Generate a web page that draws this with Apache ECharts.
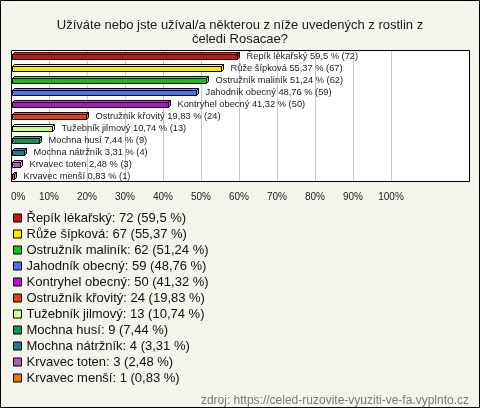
<!DOCTYPE html>
<html>
<head>
<meta charset="utf-8">
<script src="https://cdn.jsdelivr.net/npm/echarts@6/dist/echarts.min.js"></script>
<style>
  html, body { margin: 0; padding: 0; background: #f4f3ec; }
  #chart { width: 480px; height: 408px; }
</style>
</head>
<body>
<div id="chart"></div>
<script>
// data
var plants = ['Řepík lékařský', 'Růže šípková', 'Ostružník maliník', 'Jahodník obecný', 'Kontryhel obecný',
              'Ostružník křovitý', 'Tužebník jilmový', 'Mochna husí', 'Mochna nátržník', 'Krvavec toten', 'Krvavec menší'];
var counts = [72, 67, 62, 59, 50, 24, 13, 9, 4, 3, 1];
var percents = [59.5, 55.37, 51.24, 48.76, 41.32, 19.83, 10.74, 7.44, 3.31, 2.48, 0.83];
var xTicks = [0, 10, 20, 30, 40, 50, 60, 70, 80, 90, 100];

var colors = ['#c8140a', '#ffe600', '#14c014', '#4a72f0', '#b414c8', '#e2400e',
              '#ccff88', '#10925a', '#1e7a92', '#b45ab8', '#e8780e'];

var FONT = '"Liberation Sans", Arial, sans-serif';

function fmt(v) { return String(v).replace('.', ','); }

function renderBar(params, api) {
  var idx = api.value(1);
  var start = api.coord([0, idx]);
  var end = api.coord([api.value(0), idx]);
  var x0 = Math.round(start[0]) + 1.5, x1 = Math.round(end[0]) + 0.5;
  var yc = Math.round(end[1]);
  var top = yc - 1.5, bot = yc + 3.5, d = 2;
  var c = colors[params.seriesIndex];
  var dark = echarts.color.lift(c, -0.35);
  return {
    type: 'group',
    children: [
      { type: 'polygon', shape: { points: [[x0, top], [x0 + d, top - d], [x1 + d, top - d], [x1, top]] },
        style: { fill: dark, stroke: '#000', lineWidth: 1 } },
      { type: 'polygon', shape: { points: [[x1, top], [x1 + d, top - d], [x1 + d, bot - d], [x1, bot]] },
        style: { fill: dark, stroke: '#000', lineWidth: 1 } },
      { type: 'rect', shape: { x: x0, y: top, width: Math.max(x1 - x0, 0), height: bot - top },
        style: { fill: c, stroke: '#000', lineWidth: 1 } },
      { type: 'text', style: { x: x1 + 9, y: yc, text: plants[idx] + ' ' + fmt(percents[idx]) + ' % (' + counts[idx] + ')',
        verticalAlign: 'middle', font: '9.3px ' + FONT, fill: '#222' } }
    ]
  };
}

var series = plants.map(function (p, i) {
  return {
    type: 'custom',
    name: p + ': ' + counts[i] + ' (' + fmt(percents[i]) + ' %)',
    renderItem: renderBar,
    encode: { x: 0, y: 1 },
    itemStyle: { color: colors[i] },
    data: [[percents[i], i]],
    animation: false,
    silent: true
  };
});

var chart = echarts.init(document.getElementById('chart'));
chart.setOption({
  backgroundColor: '#f4f3ec',
  animation: false,
  title: [
    { text: 'Užíváte nebo jste užíval/a některou z níže uvedených z rostlin z\nčeledi Rosacae?',
      left: 'center', top: 13,
      textStyle: { fontFamily: FONT, fontSize: 13, fontWeight: 'normal', color: '#1a1a1a', lineHeight: 14, align: 'center' } },
    { text: 'zdroj: https://celed-ruzovite-vyuziti-ve-fa.vyplnto.cz',
      right: 6, top: 389,
      textStyle: { fontFamily: FONT, fontSize: 12, fontWeight: 'normal', color: '#7a7a7a', lineHeight: 14 } }
  ],
  graphic: [
    { type: 'rect', z: -10, silent: true, shape: { x: 11, y: 50, width: 459, height: 132 },
      style: { fill: '#fff' } },
    { type: 'rect', z: 100, silent: true, shape: { x: 11.5, y: 50.5, width: 458, height: 131 },
      style: { fill: 'none', stroke: '#000', lineWidth: 1 } },
    { type: 'rect', z: 100, silent: true, shape: { x: 0.5, y: 0.5, width: 479, height: 407 },
      style: { fill: 'none', stroke: '#000', lineWidth: 1 } }
  ],
  legend: {
    orient: 'vertical', left: 8, top: 205,
    selectedMode: false,
    itemWidth: 8, itemHeight: 8, itemGap: 0,
    icon: 'rect',
    textStyle: { fontFamily: FONT, fontSize: 13, color: '#111', lineHeight: 16 },
    data: series.map(function (s, i) {
      return { name: s.name, itemStyle: { color: colors[i], borderColor: '#000', borderWidth: 1 } };
    })
  },
  grid: { left: 11, top: 50, width: 380, height: 132, containLabel: false, outerBoundsMode: 'none' },
  xAxis: {
    type: 'value', min: xTicks[0], max: xTicks[xTicks.length - 1], interval: 10,
    axisLine: { show: false }, axisTick: { show: false },
    splitLine: { show: true, lineStyle: { color: '#c8c8c8', width: 1 } },
    axisLabel: { margin: 10, fontFamily: FONT, fontSize: 10, color: '#222', formatter: '{value}%', alignMinLabel: 'left' }
  },
  yAxis: {
    type: 'category', data: plants, inverse: true, show: false
  },
  series: series
});
</script>
</body>
</html>
